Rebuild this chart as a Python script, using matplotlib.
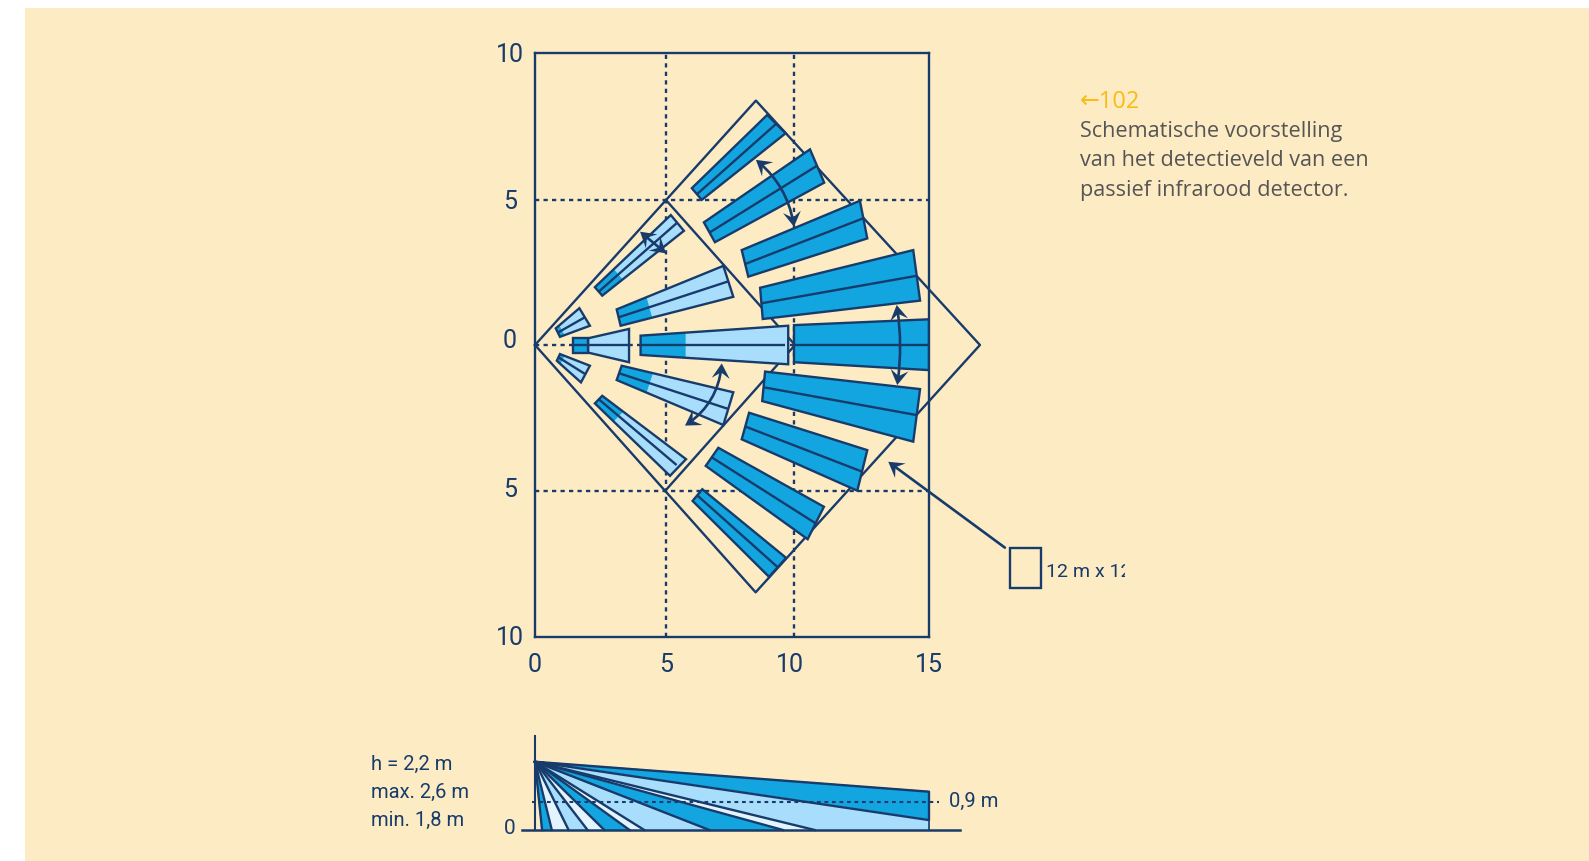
import matplotlib
matplotlib.use("Agg")
import matplotlib.pyplot as plt
import numpy as np
from matplotlib.patches import FancyArrowPatch, Polygon, Rectangle

NAVY = "#173B6B"
DARK = "#12A5E0"
LIGHT = "#A8DEFB"
PALE = "#E3F4FE"
BEIGE = "#FDEBC4"
W, H = 1589, 861

# detection field, metres. Each wedge: near a, near b, far a, far b
light_x = [[0.79, 0.95, 1.69, 2.09], [2.28, 2.56, 5.17, 5.67], [3.11, 3.26, 7.17, 7.55],
           [2.02, 2.02, 3.58, 3.58], [4.02, 4.02, 9.64, 9.64], [3.30, 3.11, 7.55, 7.17],
           [2.56, 2.28, 5.75, 5.14], [0.95, 0.83, 2.09, 1.75]]
light_y = [[0.57, 0.28, 1.26, 0.66], [1.98, 1.69, 4.45, 3.91], [1.22, 0.66, 2.71, 1.65],
           [0.23, -0.26, 0.55, -0.59], [0.32, -0.34, 0.66, -0.66], [-0.71, -1.20, -1.62, -2.74],
           [-1.74, -2.00, -3.91, -4.48], [-0.31, -0.54, -0.71, -1.28]]
light_mid_x = [[0.88, 1.90], [2.43, 5.39], [3.19, 7.36], [1.46, 3.58],
               [4.02, 9.50], [3.21, 7.36], [2.43, 5.39], [0.89, 1.90]]
light_mid_y = [[0.43, 0.95], [1.83, 4.17], [0.95, 2.18], [0, 0],
               [0, 0], [-0.97, -2.19], [-1.86, -4.11], [-0.42, -0.99]]
light_dark_part = [0.15, 0.25, 0.28, 0, 0.305, 0.28, 0.25, 0.15]

dark_x = [[5.97, 6.35, 8.84, 9.54], [6.43, 6.85, 10.47, 11.01], [7.87, 8.12, 12.37, 12.65],
          [8.57, 8.67, 14.40, 14.66], [9.86, 9.86, 15, 15], [8.76, 8.65, 14.66, 14.40],
          [8.15, 7.87, 12.65, 12.27], [6.98, 6.50, 11.00, 10.38], [6.37, 6.00, 9.56, 8.91]]
dark_y = [[5.37, 4.97, 7.88, 7.25], [4.20, 3.52, 6.70, 5.56], [3.25, 2.34, 4.94, 3.65],
          [1.96, 0.89, 3.25, 1.52], [0.68, -0.59, 0.88, -0.86], [-0.91, -1.92, -1.51, -3.31],
          [-2.32, -3.23, -3.60, -4.99], [-3.52, -4.14, -5.54, -6.65], [-4.94, -5.34, -7.29, -7.94]]
dark_mid_x = [[6.16, 9.20], [6.66, 10.72], [7.99, 12.50], [8.63, 14.53], [9.86, 15],
              [8.72, 14.53], [8.03, 12.46], [6.75, 10.69], [6.19, 9.24]]
dark_mid_y = [[5.16, 7.59], [3.86, 6.13], [2.77, 4.34], [1.43, 2.37], [0, 0],
              [-1.45, -2.40], [-2.80, -4.34], [-3.86, -6.11], [-5.16, -7.61]]

stub_x = [1.46, 2.02]
stub_y = [-0.26, 0.23]

outer_x = [0, 8.41, 16.94, 8.40, 0]
outer_y = [0, 8.37, 0, -8.47, 0]
inner_x = [4.98, 9.90, 4.95]
inner_y = [4.97, 0, -5.0]

grid_x = [4.98, 9.86]
grid_y = [4.97, -5.0]

x_ticks = [0, 5, 9.71, 15]
x_labels = ["0", "5", "10", "15"]
y_ticks = [10, 4.97, 0.22, -4.88, -9.95]
y_labels = ["10", "5", "0", "5", "10"]

# double arrows: start x, start y, end x, end y, bend
arrows = [(4.00, 3.88, 4.99, 3.14, 0), (8.41, 6.34, 9.86, 4.05, -0.2),
          (13.77, 1.37, 13.79, -1.37, -0.08), (7.11, -0.63, 5.71, -2.76, -0.25)]

# side view, metres
mount_h = 2.2
wall_top = 1.235
wall_mid = 0.32
level_h = 0.9
band_from = [0.27, 0.64, 1.28, 2.00, 2.64, 3.60, 4.16, 6.64, 9.44]
band_to = [0.64, 1.28, 2.00, 2.64, 3.60, 4.16, 6.64, 9.44, 10.65]
band_kind = ["d", "p", "l", "p", "d", "p", "l", "d", "p"]

plt.rcParams["font.family"] = "Roboto"

fig = plt.figure(figsize=(W / 100, H / 100), dpi=100, facecolor="white")
fig.patches.append(Rectangle((25 / W, 0), 1 - 25 / W, 1 - 8 / H, transform=fig.transFigure,
                             facecolor=BEIGE, edgecolor="none", zorder=-1))


def put_text(x, y, s, **kw):
    kw.setdefault("color", NAVY)
    return fig.text(x / W, 1 - y / H, s, **kw)


ax = fig.add_axes([535 / W, (H - 637) / H, 394 / W, 584 / H], facecolor="none")
ax.set_xlim(0, 15)
ax.set_ylim(-10, 10)
for s in ax.spines.values():
    s.set_color(NAVY)
    s.set_linewidth(1.7)
    s.set_zorder(6)
ax.set_xticks(x_ticks, x_labels)
ax.set_yticks(y_ticks, y_labels, ha="center")
ax.tick_params(length=0, labelsize=18, colors=NAVY)
ax.tick_params(axis="x", pad=11.8)
ax.tick_params(axis="y", pad=18)

dash = (0, (1.8, 1.8))
for g in grid_x:
    ax.plot([g, g], [-10, 10], color=NAVY, lw=1.7, ls=dash, zorder=1)
for g in grid_y:
    ax.plot([0, 15], [g, g], color=NAVY, lw=1.7, ls=dash, zorder=1)
ax.plot([0, 10], [0, 0], color=NAVY, lw=1.7, ls=dash, zorder=1)

ax.plot(outer_x, outer_y, color=NAVY, lw=1.7, zorder=2, clip_on=False)
ax.plot(inner_x, inner_y, color=NAVY, lw=1.7, zorder=2, clip_on=False)


def draw_wedge(xs, ys, mx, my, fill, part=0):
    corners = list(zip([xs[0], xs[2], xs[3], xs[1]], [ys[0], ys[2], ys[3], ys[1]]))
    ax.add_patch(Polygon(corners, facecolor=fill, edgecolor="none", zorder=3))
    if part:
        p1 = (xs[0] + (xs[2] - xs[0]) * part, ys[0] + (ys[2] - ys[0]) * part)
        p2 = (xs[1] + (xs[3] - xs[1]) * part, ys[1] + (ys[3] - ys[1]) * part)
        ax.add_patch(Polygon([corners[0], p1, p2, corners[3]], facecolor=DARK,
                             edgecolor="none", zorder=3))
    ax.add_patch(Polygon(corners, facecolor="none", edgecolor=NAVY, lw=1.7, zorder=4,
                         joinstyle="miter"))
    ax.plot(mx, my, color=NAVY, lw=1.7, zorder=4, solid_capstyle="butt")


for i in range(len(light_x)):
    draw_wedge(light_x[i], light_y[i], light_mid_x[i], light_mid_y[i], LIGHT, light_dark_part[i])
for i in range(len(dark_x)):
    draw_wedge(dark_x[i], dark_y[i], dark_mid_x[i], dark_mid_y[i], DARK)
ax.add_patch(Rectangle((stub_x[0], stub_y[0]), stub_x[1] - stub_x[0], stub_y[1] - stub_y[0],
                       facecolor=DARK, edgecolor=NAVY, lw=1.7, zorder=4))
ax.plot(stub_x, [0, 0], color=NAVY, lw=1.7, zorder=5)


def stealth_head(tip, toward, length=15, width=9):
    # barbed head, built in pixels so it keeps its shape on the unequal axes
    tip = ax.transData.transform(tip)
    toward = ax.transData.transform(toward)
    u = (tip - toward) / np.hypot(*(tip - toward))
    n = np.array([-u[1], u[0]])
    pts = [tip, tip - length * u + width * n, tip - 0.6 * length * u, tip - length * u - width * n]
    ax.add_patch(Polygon(pts, transform=None, facecolor=NAVY, edgecolor="none", zorder=8, clip_on=False))


def draw_arrow(x0, y0, x1, y1, bend=0, both=True, shrink_tail=3):
    a = ax.transData.transform((x0, y0))
    b = ax.transData.transform((x1, y1))
    # same control point as arc3, so the head follows the curve
    ctrl = (a + b) / 2 + bend * np.array([b[1] - a[1], a[0] - b[0]])
    ctrl = ax.transData.inverted().transform(ctrl)
    ax.add_patch(FancyArrowPatch((x0, y0), (x1, y1), arrowstyle="-", connectionstyle=f"arc3,rad={bend}",
                                 color=NAVY, lw=1.9, shrinkA=shrink_tail, shrinkB=3, zorder=7, clip_on=False))
    stealth_head((x1, y1), ctrl)
    if both:
        stealth_head((x0, y0), ctrl)


for x0, y0, x1, y1, bend in arrows:
    draw_arrow(x0, y0, x1, y1, bend)
draw_arrow(17.89, -6.94, 13.45, -4.0, both=False, shrink_tail=0)
ax.add_patch(Rectangle((18.08, -8.31), 1.17, 1.36, facecolor="none", edgecolor=NAVY, lw=1.7,
                       zorder=7, clip_on=False))

t = put_text(1046, 572, "12 m x 12 m", fontsize=14, va="center", ha="left")
t.set_clip_path(Rectangle((0, 0), 1125 / W, 1, transform=fig.transFigure))

# side view
side = fig.add_axes([535 / W, 31 / H, 394 / W, 94.3 / H], facecolor="none")
side.set_xlim(0, 15)
side.set_ylim(0, 3.04)
side.axis("off")
fills = {"d": DARK, "l": LIGHT, "p": PALE}
side.fill([0, 15, 15], [mount_h, wall_top, wall_mid], color=DARK, zorder=2, clip_on=False)
side.fill([0, 15, 15, band_to[-1]], [mount_h, wall_mid, 0, 0], color=LIGHT, zorder=2, clip_on=False)
for a, b, k in zip(band_from, band_to, band_kind):
    side.fill([0, a, b], [mount_h, 0, 0], color=fills[k], zorder=2, clip_on=False)
for a in band_from + band_to[-1:]:
    side.plot([0, a], [mount_h, 0], color=NAVY, lw=1.7, zorder=3, clip_on=False)
side.plot([0, 15, 15, 0], [mount_h, wall_top, wall_mid, mount_h], color=NAVY, lw=1.7, zorder=3, clip_on=False)
side.plot([15, 15], [wall_mid, 0], color=NAVY, lw=1.2, zorder=3, clip_on=False)
side.plot([0, 0], [0, 3.04], color=NAVY, lw=1.5, zorder=4, clip_on=False)
side.plot([-0.48, 16.17], [0, 0], color=NAVY, lw=1.8, zorder=4, clip_on=False)
side.plot([-0.13, 15.37], [level_h, level_h], color=NAVY, lw=1.5, ls=dash, zorder=5, clip_on=False)

side_text = ["h = 2,2 m", "max. 2,6 m", "min. 1,8 m"]
side_y = [764, 792, 820]
for s, y in zip(side_text, side_y):
    put_text(371, y, s, fontsize=14.5, va="center", ha="left")
put_text(510, 829, "0", fontsize=15, va="center", ha="center")
put_text(949, 801, "0,9 m", fontsize=14.5, va="center", ha="left")

# caption
CAP = ["Open Sans", "DejaVu Sans"]
put_text(1080, 107.5, "←102", color="#F9BC15", fontsize=17, family=CAP, va="baseline")
caption = ["Schematische voorstelling", "van het detectieveld van een", "passief infrarood detector."]
caption_y = [137, 166.5, 196]
for s, y in zip(caption, caption_y):
    put_text(1080, y, s, color="#555555", fontsize=15.55, family=CAP, va="baseline")

fig.savefig("out.png", dpi=100)
